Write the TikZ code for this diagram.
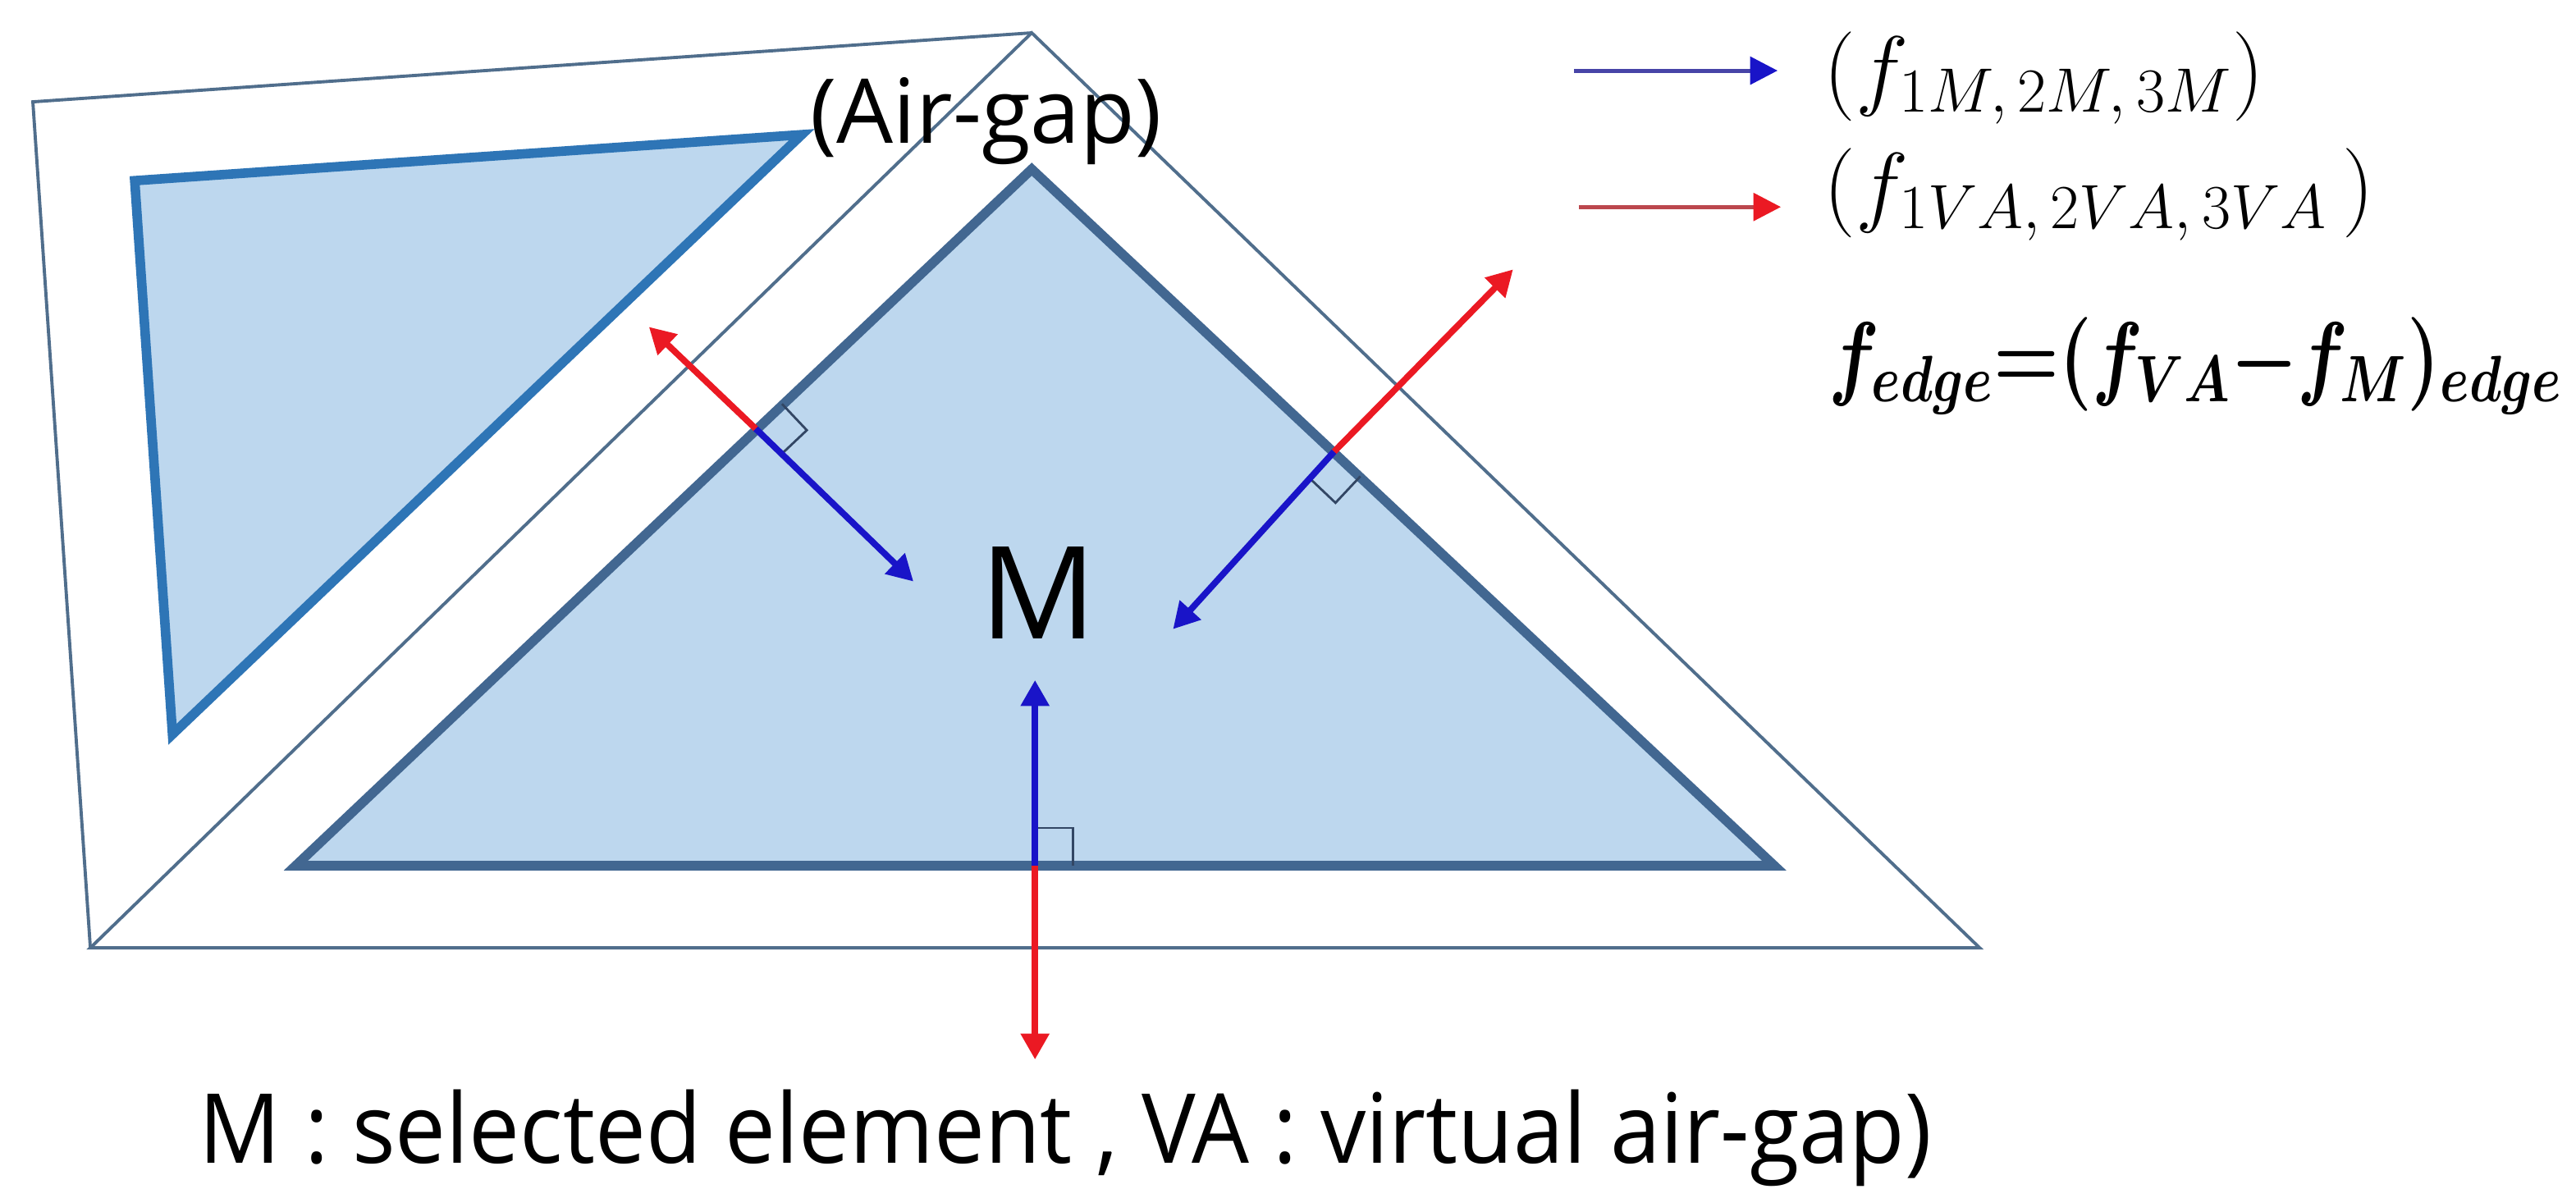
\RequirePackage{fix-cm}
\documentclass[tikz,border=0pt]{standalone}
\usepackage[no-math]{fontspec}
\usepackage{bm}
\usetikzlibrary{arrows.meta}
\newfontfamily\labelfont{Open Sans}
\definecolor{cellfill}{RGB}{189,215,238}
\definecolor{smallborder}{RGB}{46,117,182}
\definecolor{bigborder}{RGB}{66,103,145}
\definecolor{gapline}{RGB}{80,110,140}
\definecolor{vared}{RGB}{235,25,35}
\definecolor{mblue}{RGB}{25,20,200}
\definecolor{markline}{RGB}{50,70,100}
\begin{document}
\begin{tikzpicture}[x=0.02cm,y=-0.02cm,
  element/.style={fill=cellfill,line width=3.3pt,line join=miter},
  gap/.style={draw=gapline,line width=1.1pt,line join=miter},
  fvec/.style={line width=2.2pt,-{Triangle[length=9pt,width=9.5pt]}},
  legvec/.style={line width=1.4pt},
  rmark/.style={draw=markline,line width=0.8pt},
  txt/.style={inner sep=0pt,anchor=base west}]
\useasboundingbox (0,0) rectangle (1568,723.8);
\fill[white] (0,0) rectangle (1568,723.8);

% elements
\draw[element,draw=smallborder] (82,110) -- (488,82) -- (105,447) -- cycle;
\draw[element,draw=bigborder] (628,103) -- (1080,527) -- (180,527) -- cycle;
% air-gap outline
\draw[gap] (628,20) -- (1205,577) -- (55,577) -- cycle;
\draw[gap] (55,577) -- (20,62) -- (628,20);

% feet and tips
\coordinate (FL) at (460,261);
\coordinate (FR) at (812,275);
\coordinate (FB) at (630,527);
\coordinate (LR) at (395,199);
\coordinate (LB) at (556,354);
\coordinate (RR) at (921,164);
\coordinate (RB) at (714,383);
\coordinate (BB) at (630,414);
\coordinate (BR) at (630,645);

% right-angle marks
\draw[rmark] (476.0,245.9) -- (491.1,261.9) -- (475.1,277.0);
\draw[rmark] (828.0,290.0) -- (812.9,306.1) -- (797.0,291.0);
\draw[rmark] (630,504) -- (653,504) -- (653,527);

% normal vectors
\draw[fvec,vared] (FL) -- (LR);
\draw[fvec,mblue] (FL) -- (LB);
\draw[fvec,vared] (FR) -- (RR);
\draw[fvec,mblue] (FR) -- (RB);
\draw[fvec,mblue] (FB) -- (BB);
\draw[fvec,vared] (FB) -- (BR);

% labels
\node[txt,font=\labelfont\fontsize{31}{37}\selectfont] (airgap) at (493,87) {(Air-gap)};
\node[inner sep=0pt,anchor=base,font=\labelfont\fontsize{44.6}{52}\selectfont] (Mlabel) at (632,389) {M};
\node[txt,font=\labelfont\fontsize{33.5}{40}\selectfont] (note) at (121,708) {\scalebox{0.937}[1]{M : selected element , VA : virtual air-gap)}};

% legend
\coordinate (lbs) at (958,43);
\coordinate (lbe) at (1082,43);
\coordinate (lrs) at (961,126);
\coordinate (lre) at (1084,126);
\draw[legvec,draw=mblue!55!gray,-{Triangle[length=9.5pt,width=9.5pt,color=mblue]}] (lbs) -- (lbe);
\draw[legvec,draw=vared!55!gray,-{Triangle[length=9.5pt,width=9.5pt,color=vared]}] (lrs) -- (lre);
\node[txt,font=\fontsize{31}{36}\selectfont] (leg1) at (1110,60) {$(f_{1M,\,2M,\,3M})$};
\node[txt,font=\fontsize{31}{36}\selectfont] (leg2) at (1110,131) {$(f_{1VA,\,2VA,\,3VA}\,)$};
\node[inner sep=0pt,anchor=base east,font=\fontsize{32.5}{38}\selectfont] (formula) at (1560,236) {\scalebox{0.80}[1]{$\bm{f_{edge}{=}(f_{VA}{-}f_{M})_{edge}}$}};
\end{tikzpicture}
\end{document}
